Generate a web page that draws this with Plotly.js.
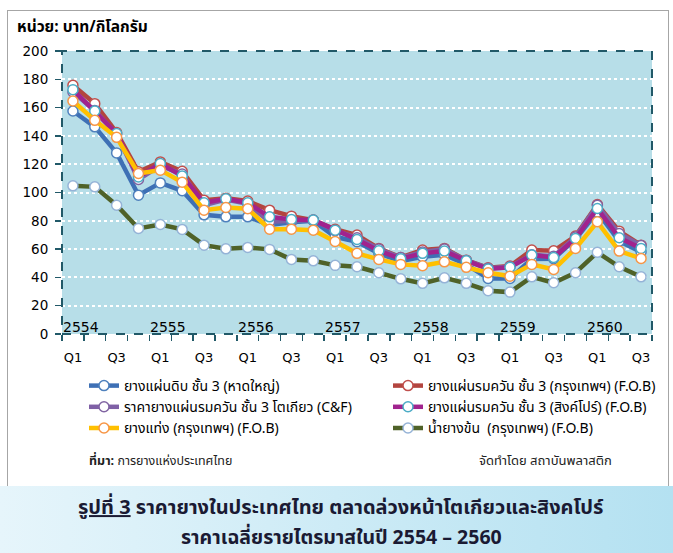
<!DOCTYPE html>
<html>
<head>
<meta charset="utf-8">
<script src="https://cdn.plot.ly/plotly-3.0.1.min.js"></script>
<style>
html,body{margin:0;padding:0;background:#ffffff;}
#wrap{position:relative;width:673px;height:553px;overflow:hidden;}
#box{position:absolute;left:7px;top:10px;width:662px;height:476px;border:1px solid #a6a6a6;border-bottom:none;box-sizing:border-box;background:#fff;}
#band{position:absolute;left:0;top:486px;width:673px;height:67px;background:linear-gradient(90deg,#e6f5fb 0%,#cdebf6 50%,#b4e1f1 100%);}
#chart{position:absolute;left:0;top:0;width:673px;height:553px;}
</style>
</head>
<body>
<div id="wrap"><div id="box"></div><div id="band"></div><div id="chart"></div></div>
<script>
// ---- data ----
const quarters = ['2554 Q1','2554 Q2','2554 Q3','2554 Q4','2555 Q1','2555 Q2','2555 Q3','2555 Q4',
  '2556 Q1','2556 Q2','2556 Q3','2556 Q4','2557 Q1','2557 Q2','2557 Q3','2557 Q4',
  '2558 Q1','2558 Q2','2558 Q3','2558 Q4','2559 Q1','2559 Q2','2559 Q3','2559 Q4',
  '2560 Q1','2560 Q2','2560 Q3'];
const years = ['2554','2555','2556','2557','2558','2559','2560'];
const tickLabels = ['Q1','Q3','Q1','Q3','Q1','Q3','Q1','Q3','Q1','Q3','Q1','Q3','Q1','Q3'];

const rss3HatYai = [157.6,146.4,128,98.1,106.8,101.2,84.2,82.8,82.8,77,79,80,68.7,65.2,57,51.5,54.6,56,49.2,39.3,39.3,53,53.2,67,86.3,65.6,58];
const rss3Bangkok = [175.8,162.8,142.4,114.6,121.6,115,94.6,96,94,87.5,83.3,80.5,74,69.9,60.5,54.1,59.3,60.5,52.2,46.8,48,59.3,58.8,69.2,91.5,72.7,62.8];
const rss3Tokyo = [171,158,141,109.2,119,113,91,95,92,79.3,80,80.5,73,68,60,54,58,60,52,46.5,47.5,56,55,68.5,91,71,62.5];
const rss3Singapore = [172.7,157.6,141.7,111,120.5,111.7,92.7,95.5,92.7,82.8,81,80.5,73.4,66.8,58.8,53.2,57,58.6,51.8,45.9,47.1,55.8,54.1,67.5,88.7,68,60.5];
const str20Bangkok = [164.7,151,139,113.4,115.8,107.3,87.5,89.4,88.5,74.1,74.1,73.4,65.4,57,52.7,49.2,48.2,51,47.1,43.3,40.9,49.2,45.6,60.5,79.3,58.6,53.4];
const latexBangkok = [104.7,104,91,74.6,77.4,73.9,62.8,60.2,61.2,59.8,52.7,51.7,48.5,47.5,43.3,39,35.8,39.7,35.8,30.6,29.6,40.4,36.2,43.3,57.7,47.5,40.4];

const seriesNames = ['ยางแผ่นดิบ ชั้น 3 (หาดใหญ่)','ยางแผ่นรมควัน ชั้น 3 (กรุงเทพฯ) (F.O.B)',
  'ราคายางแผ่นรมควัน ชั้น 3 โตเกียว (C&F)','ยางแผ่นรมควัน ชั้น 3 (สิงค์โปร์) (F.O.B)',
  'ยางแท่ง (กรุงเทพฯ) (F.O.B)','น้ำยางข้น  (กรุงเทพฯ) (F.O.B)'];

// ---- styling ----
const THAI = 'Tahoma, "Noto Sans Thai", "Noto Sans", "DejaVu Sans", sans-serif';
const LAT = '"DejaVu Sans", Verdana, sans-serif';
const xIdx = quarters.map((q,i)=>i);
const styles = [
  {line:'#3e70b5', mk:'#4f81bd', legend:'legend', lg:'a'},
  {line:'#b3453f', mk:'#c0504d', legend:'legend2', lg:'b'},
  {line:'#7f60a6', mk:'#8064a2', legend:'legend', lg:'c'},
  {line:'#a1238e', mk:'#4bacc6', legend:'legend2', lg:'d'},
  {line:'#ffc000', mk:'#f79646', legend:'legend', lg:'e'},
  {line:'#4f6228', mk:'#95b3d7', legend:'legend2', lg:'f'}
];
const values = [rss3HatYai, rss3Bangkok, rss3Tokyo, rss3Singapore, str20Bangkok, latexBangkok];

const traces = values.map((v,i)=>({
  type:'scatter', mode:'lines+markers', name:seriesNames[i], x:xIdx, y:v,
  legend:styles[i].legend, legendgroup:styles[i].lg,
  line:{color:styles[i].line, width:4.5},
  marker:{symbol:'circle', size:10, color:'#ffffff', line:{color:styles[i].mk, width:1.5}},
  hoverinfo:'x+y'
}));

// pixel helpers (plot area 62..652 x, 51..334 y)
const L=62, R=652, T=51, B=334;
const px = x => (x-L)/(R-L);
const py = y => (B-y)/(B-T);

const annotations = [];
years.forEach((y,k)=>{
  annotations.push({xref:'x', yref:'paper', x:k*4-0.5, y:py(327), text:y, showarrow:false,
    xanchor:'left', yanchor:'middle', font:{family:LAT, size:14, color:'#000'}, xshift:-1});
});
annotations.push({xref:'paper', yref:'paper', x:px(15), y:py(27), text:'<b>หน่วย: บาท/กิโลกรัม</b>',
  showarrow:false, xanchor:'left', yanchor:'middle', font:{family:THAI, size:15.5, color:'#000'}});
annotations.push({xref:'paper', yref:'paper', x:px(87), y:py(461), text:'<b>ที่มา:</b> การยางแห่งประเทศไทย',
  showarrow:false, xanchor:'left', yanchor:'middle', font:{family:THAI, size:12.5, color:'#222'}});
annotations.push({xref:'paper', yref:'paper', x:px(477), y:py(461), text:'จัดทำโดย สถาบันพลาสติก',
  showarrow:false, xanchor:'left', yanchor:'middle', font:{family:THAI, size:13, color:'#222'}});
annotations.push({xref:'paper', yref:'paper', x:px(341), y:py(508),
  text:'<b><u>รูปที่ 3</u> ราคายางในประเทศไทย ตลาดล่วงหน้าโตเกียวและสิงคโปร์</b>',
  showarrow:false, xanchor:'center', yanchor:'middle', borderpad:0,
  font:{family:THAI, size:20, color:'#1a1a33'}});
annotations.push({xref:'paper', yref:'paper', x:px(341), y:py(537.5),
  text:'<b>ราคาเฉลี่ยรายไตรมาสในปี 2554 – 2560</b>',
  showarrow:false, xanchor:'center', yanchor:'middle', borderpad:0,
  font:{family:THAI, size:19.5, color:'#1a1a33'}});

const layout = {
  width:673, height:553,
  margin:{l:L, r:673-R, t:T, b:553-B, pad:0},
  paper_bgcolor:'rgba(0,0,0,0)',
  plot_bgcolor:'#b7dee8',
  showlegend:true,
  xaxis:{range:[-0.5, quarters.length-0.5], tickmode:'array',
    tickvals:tickLabels.map((t,i)=>i*2), ticktext:tickLabels,
    ticks:'', showgrid:false, zeroline:false, showline:false,
    tickfont:{family:LAT, size:13, color:'#000'}, ticklabelstandoff:14, fixedrange:true},
  xaxis2:{overlaying:'x', range:[-0.5, quarters.length-0.5], tickmode:'linear', tick0:-0.5, dtick:1,
    ticks:'outside', ticklen:6, tickwidth:1.5, tickcolor:'#215968', showticklabels:false,
    showgrid:false, zeroline:false, showline:false, side:'bottom', anchor:'y'},
  yaxis:{range:[0,200], dtick:20, tick0:0, ticks:'outside', ticklen:6, tickwidth:1.5, tickcolor:'#215968',
    showgrid:true, gridcolor:'#ffffff', griddash:'dot', gridwidth:2, zeroline:false, showline:false,
    tickfont:{family:LAT, size:13.5, color:'#000'}, ticklabelstandoff:4},
  shapes:[{type:'rect', xref:'paper', yref:'paper', x0:0, x1:1, y0:0, y1:1,
    line:{color:'#215968', width:2, dash:'dash'}, fillcolor:'rgba(0,0,0,0)', layer:'above'}],
  legend:{x:px(84), y:py(370), xanchor:'left', yanchor:'top', orientation:'v', tracegroupgap:0,
    font:{family:THAI, size:14, color:'#000'}, bgcolor:'rgba(0,0,0,0)', itemwidth:30},
  legend2:{x:px(388), y:py(370), xanchor:'left', yanchor:'top', orientation:'v', tracegroupgap:0,
    font:{family:THAI, size:14, color:'#000'}, bgcolor:'rgba(0,0,0,0)', itemwidth:30},
  annotations:annotations
};
// dummy trace so xaxis2 is drawn
traces.unshift({type:'scatter', x:[0], y:[null], xaxis:'x2', yaxis:'y', showlegend:false, hoverinfo:'skip', mode:'lines'});
Plotly.newPlot('chart', traces, layout, {displayModeBar:false, staticPlot:true});
</script>
</body>
</html>
